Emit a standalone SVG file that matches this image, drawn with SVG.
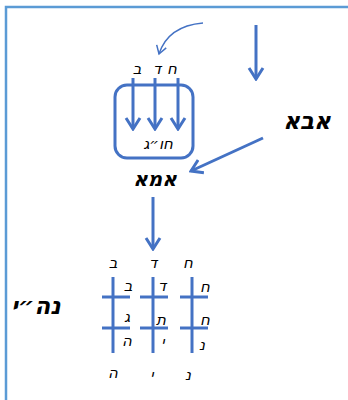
<svg xmlns="http://www.w3.org/2000/svg" width="348" height="400" viewBox="0 0 348 400">
<style>
.ln{stroke:#4472c4;stroke-width:3;fill:none}
.thin{stroke:#4472c4;stroke-width:1.5;fill:none}
.t{font-family:"DejaVu Sans","Liberation Sans",sans-serif;font-style:italic;fill:#000;text-anchor:middle}
.s{font-size:15px}
.b{font-size:20px;font-weight:bold}
</style>
<defs>
<marker id="hd" viewBox="-12 -9 14 18" refX="0" refY="0" markerWidth="14" markerHeight="18" markerUnits="userSpaceOnUse" orient="auto">
<path d="M-11,-7 L0,0 L-11,7" fill="none" stroke="#4472c4" stroke-width="3" stroke-linejoin="miter"/>
</marker>
<marker id="hdt" viewBox="-9 -7 11 14" refX="0" refY="0" markerWidth="11" markerHeight="14" markerUnits="userSpaceOnUse" orient="auto">
<path d="M-8,-5 L0,0 L-8,5" fill="none" stroke="#4472c4" stroke-width="1.5"/>
</marker>
</defs>
<rect width="348" height="400" fill="#fff"/>
<g id="frame">
<path d="M6,400 L6,7 L348,7" fill="none" stroke="#5b9bd5" stroke-width="2.5"/>
</g>
<g id="connectors">
<path class="thin" d="M203,23 Q168,26 159,54" marker-end="url(#hdt)"/>
<line class="ln" x1="256" y1="25" x2="256" y2="79" marker-end="url(#hd)"/>
<line class="ln" x1="133" y1="78" x2="133" y2="129" marker-end="url(#hd)"/>
<line class="ln" x1="155" y1="78" x2="155" y2="129" marker-end="url(#hd)"/>
<line class="ln" x1="178" y1="78" x2="178" y2="129" marker-end="url(#hd)"/>
<line class="ln" x1="263" y1="138" x2="191" y2="171" marker-end="url(#hd)"/>
<line class="ln" x1="153" y1="197" x2="153" y2="249" marker-end="url(#hd)"/>
</g>
<g id="chabad-labels">
<text class="t s" x="137" y="74">ב</text>
<text class="t s" x="157" y="74">ד</text>
<text class="t s" x="172" y="74">ח</text>
</g>
<g id="box">
<rect class="ln" x="115" y="85" width="78" height="73" rx="12"/>
<text class="t s" x="158" y="149">חו״ג</text>
</g>
<g id="ima">
<text class="t b" x="155" y="186">אמא</text>
</g>
<g id="abba">
<text class="t" x="307" y="129" style="font-size:23px;font-weight:bold">אבא</text>
</g>
<g id="nhy-label">
<text class="t" x="36" y="314" style="font-size:23px;font-weight:bold">נה״י</text>
</g>
<g id="grid">
<line class="ln" x1="113" y1="277" x2="113" y2="353"/>
<line class="ln" x1="153" y1="277" x2="153" y2="353"/>
<line class="ln" x1="192" y1="277" x2="192" y2="353"/>
<line class="ln" x1="102" y1="297" x2="130" y2="297"/>
<line class="ln" x1="140" y1="297" x2="168" y2="297"/>
<line class="ln" x1="180" y1="297" x2="208" y2="297"/>
<line class="ln" x1="102" y1="328" x2="130" y2="328"/>
<line class="ln" x1="140" y1="328" x2="168" y2="328"/>
<line class="ln" x1="180" y1="328" x2="208" y2="328"/>
<text class="t s" x="113" y="268">ב</text>
<text class="t s" x="153" y="268">ד</text>
<text class="t s" x="188" y="268">ח</text>
<text class="t s" x="128" y="291">ב</text>
<text class="t s" x="127" y="322">ג</text>
<text class="t s" x="127" y="346">ה</text>
<text class="t s" x="162" y="291">ד</text>
<text class="t s" x="161" y="325">ת</text>
<text class="t s" x="163" y="347">י</text>
<text class="t s" x="205" y="292">ח</text>
<text class="t s" x="205" y="325">ח</text>
<text class="t s" x="202" y="350">נ</text>
<text class="t s" x="113" y="378">ה</text>
<text class="t s" x="152" y="380">י</text>
<text class="t s" x="188" y="380">נ</text>
</g>
</svg>
